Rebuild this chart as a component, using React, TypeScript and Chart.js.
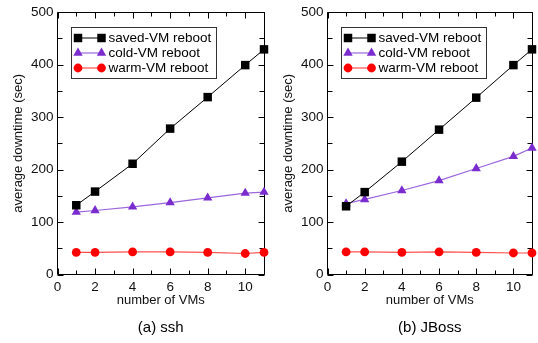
import React, { useEffect, useRef } from "react";
import { Chart, registerables } from "chart.js";

Chart.register(...registerables);

const vmCounts = [1, 2, 4, 6, 8, 10, 11];
const sshSaved = [132, 158, 211, 278, 338, 399, 429];
const sshCold = [119, 122, 129, 137, 146, 155, 157];
const sshWarm = [42, 42, 43, 43, 42, 40, 42];
const jbossSaved = [130, 157, 215, 276, 337, 399, 429];
const jbossCold = [135, 143, 160, 179, 202, 225, 241];
const jbossWarm = [43, 43, 42, 43, 42, 41, 41];

const seriesNames = ["saved-VM reboot", "cold-VM reboot", "warm-VM reboot"];
const xTickLabels = [0, 2, 4, 6, 8, 10];
const xMinorTicks = [1, 3, 5, 7, 9, 11];
const yTickLabels = [0, 100, 200, 300, 400, 500];
const yMinorTicks = [50, 150, 250, 350, 450];

const FONT = "'Liberation Sans', Arial, Helvetica, sans-serif";

const styles = [
  { line: "#000000", point: "#000000", shape: "rect", r: 6, w: 1 },
  { line: "#9b66dd", point: "#7a2ccf", shape: "triangle", r: 5.4, w: 1.2 },
  { line: "#ff4d4d", point: "#ff0000", shape: "circle", r: 4.4, w: 1.2 },
];

function drawMarker(ctx: CanvasRenderingContext2D, shape: string, x: number, y: number, r: number, color: string) {
  ctx.save();
  ctx.fillStyle = color;
  ctx.beginPath();
  if (shape === "rect") {
    const s = r * Math.SQRT1_2;
    ctx.rect(x - s, y - s, 2 * s, 2 * s);
  } else if (shape === "triangle") {
    ctx.moveTo(x, y - r);
    ctx.lineTo(x + r * 0.866, y + r * 0.5);
    ctx.lineTo(x - r * 0.866, y + r * 0.5);
    ctx.closePath();
  } else {
    ctx.arc(x, y, r, 0, Math.PI * 2);
  }
  ctx.fill();
  ctx.restore();
}

function Panel(props: {
  saved: number[];
  cold: number[];
  warm: number[];
  caption: string;
  left: number;
  width: number;
  padRight: number;
}) {
  const ref = useRef<HTMLCanvasElement>(null);
  useEffect(() => {
    const canvas = ref.current;
    if (!canvas) return;
    const series = [props.saved, props.cold, props.warm];
    const datasets = series.map((vals, i) => ({
      label: seriesNames[i],
      data: vals.map((v, j) => ({ x: vmCounts[j], y: v })),
      borderColor: styles[i].line,
      backgroundColor: styles[i].point,
      borderWidth: styles[i].w,
      pointStyle: styles[i].shape as any,
      pointRadius: styles[i].r,
      pointBackgroundColor: styles[i].point,
      pointBorderColor: styles[i].point,
      pointBorderWidth: 0,
      clip: false as any,
      tension: 0,
    }));

    const framePlugin = {
      id: "frameTicks",
      beforeDatasetsDraw(chart: any) {
        const { ctx, chartArea: a, scales } = chart;
        const L = Math.floor(a.left) + 0.5;
        const R = Math.floor(a.right) + 0.5;
        const T = Math.floor(a.top) + 0.5;
        const B = Math.floor(a.bottom) + 0.5;
        ctx.save();
        ctx.strokeStyle = "#000";
        ctx.lineWidth = 1;
        ctx.beginPath();
        const xt = (v: number, len: number) => {
          const px = Math.round(scales.x.getPixelForValue(v)) + 0.5;
          ctx.moveTo(px, B);
          ctx.lineTo(px, B - len);
          ctx.moveTo(px, T);
          ctx.lineTo(px, T + len);
        };
        const yt = (v: number, len: number) => {
          const py = Math.round(scales.y.getPixelForValue(v)) + 0.5;
          ctx.moveTo(L, py);
          ctx.lineTo(L + len, py);
          ctx.moveTo(R, py);
          ctx.lineTo(R - len, py);
        };
        xTickLabels.forEach((v) => xt(v, 6));
        xMinorTicks.forEach((v) => xt(v, 4));
        yTickLabels.forEach((v) => yt(v, 6));
        yMinorTicks.forEach((v) => yt(v, 5));
        ctx.stroke();
        ctx.beginPath();
        ctx.rect(L, T, R - L, B - T);
        ctx.stroke();
        ctx.restore();
      },
      afterDraw(chart: any) {
        const { ctx, chartArea: a } = chart;
        ctx.save();
        // legend
        const bx = Math.floor(a.left) + 14.5;
        const by = Math.floor(a.top) + 15.5;
        const bw = 145;
        const bh = 51;
        ctx.fillStyle = "#fff";
        ctx.fillRect(bx, by, bw, bh);
        ctx.strokeStyle = "#333";
        ctx.lineWidth = 1;
        ctx.strokeRect(bx, by, bw, bh);
        ctx.font = `13.5px ${FONT}`;
        ctx.textBaseline = "middle";
        ctx.textAlign = "left";
        seriesNames.forEach((name, i) => {
          const y = by + 10.5 + i * 15;
          const x0 = bx + 6.5;
          const x1 = bx + 30;
          ctx.strokeStyle = styles[i].line;
          ctx.lineWidth = styles[i].w;
          ctx.beginPath();
          ctx.moveTo(x0, y);
          ctx.lineTo(x1, y);
          ctx.stroke();
          drawMarker(ctx, styles[i].shape, x0, y, styles[i].r, styles[i].point);
          drawMarker(ctx, styles[i].shape, x1, y, styles[i].r, styles[i].point);
          ctx.fillStyle = "#000";
          ctx.fillText(name, bx + 37, y + 0.5);
        });
        // caption
        ctx.font = `15px ${FONT}`;
        ctx.textAlign = "center";
        ctx.fillStyle = "#000";
        ctx.fillText(props.caption, (a.left + a.right) / 2, 327.5);
        ctx.restore();
      },
    };

    const chart = new Chart(canvas, {
      type: "line",
      data: { datasets },
      options: {
        animation: false,
        responsive: false,
        maintainAspectRatio: false,
        layout: { padding: { top: 10.5, right: props.padRight, bottom: 34.5, left: 0 } },
        plugins: { legend: { display: false }, tooltip: { enabled: false }, title: { display: false } },
        scales: {
          x: {
            type: "linear",
            min: 0,
            max: 11,
            grid: { display: false, drawTicks: false },
            border: { display: false },
            afterBuildTicks: (s: any) => {
              s.ticks = xTickLabels.map((v) => ({ value: v }));
            },
            afterFit: (s: any) => {
              s.height = 34;
            },
            ticks: { color: "#111", font: { family: FONT, size: 13.5 }, padding: 4.5, maxRotation: 0, autoSkip: false },
            title: {
              display: true,
              text: "number of VMs",
              color: "#111",
              font: { family: FONT, size: 13 },
              padding: { top: 0, bottom: 0 },
            },
          },
          y: {
            type: "linear",
            min: 0,
            max: 500,
            grid: { display: false, drawTicks: false },
            border: { display: false },
            afterBuildTicks: (s: any) => {
              s.ticks = yTickLabels.map((v) => ({ value: v }));
            },
            afterFit: (s: any) => {
              s.width = 57.5;
            },
            ticks: { color: "#111", font: { family: FONT, size: 13.5 }, padding: 4 },
            title: {
              display: true,
              text: "average downtime (sec)",
              color: "#111",
              font: { family: FONT, size: 13 },
              padding: { top: 11, bottom: 0 },
            },
          },
        },
      } as any,
      plugins: [framePlugin],
    });
    return () => chart.destroy();
  }, []);
  return (
    <canvas
      ref={ref}
      width={props.width}
      height={343}
      style={{ position: "absolute", left: props.left, top: 0, width: props.width, height: 343 }}
    />
  );
}

export default function App() {
  return (
    <div style={{ position: "absolute", left: 0, top: 0, width: 538, height: 343, background: "#fff" }}>
      <Panel saved={sshSaved} cold={sshCold} warm={sshWarm} caption="(a) ssh" left={0} width={270} padRight={3.5} />
      <Panel saved={jbossSaved} cold={jbossCold} warm={jbossWarm} caption="(b) JBoss" left={270} width={268} padRight={1.5} />
    </div>
  );
}
